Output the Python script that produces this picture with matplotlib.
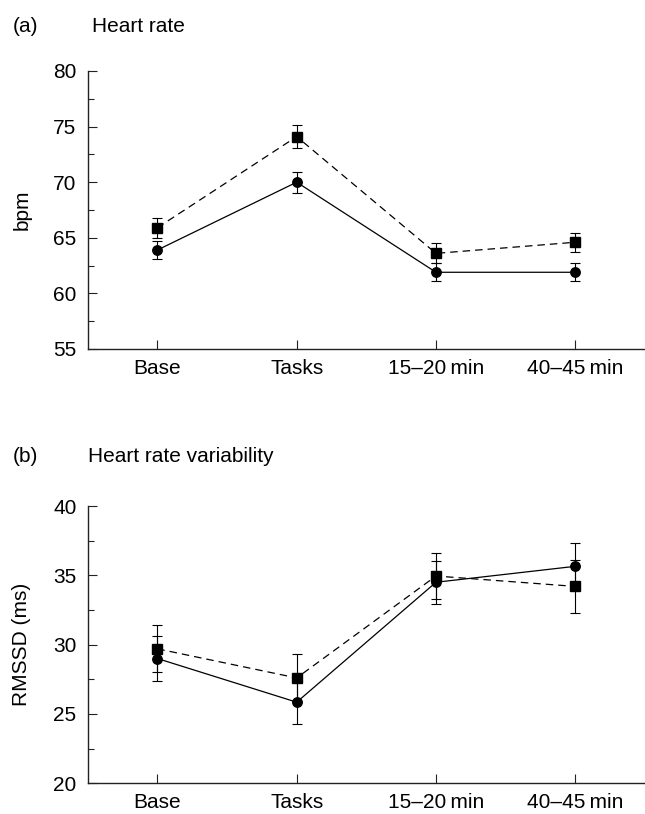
import matplotlib
matplotlib.use("Agg")
import matplotlib.pyplot as plt
from matplotlib.ticker import MultipleLocator
from matplotlib import font_manager

# categories
times = ["Base", "Tasks", "15–20\u2009min", "40–45\u2009min"]

# (a) heart rate, bpm
hr_square = [65.9, 74.1, 63.6, 64.6]
hr_square_err = [0.9, 1.0, 0.9, 0.85]
hr_circle = [63.9, 70.0, 61.9, 61.9]
hr_circle_err = [0.8, 0.95, 0.8, 0.8]

# (b) heart rate variability, RMSSD (ms)
hrv_square = [29.7, 27.6, 34.95, 34.2]
hrv_square_err = [1.7, 1.7, 1.65, 1.9]
hrv_circle = [29.0, 25.85, 34.5, 35.65]
hrv_circle_err = [1.6, 1.6, 1.55, 1.65]

names = {f.name for f in font_manager.fontManager.ttflist}
tick_font = "Liberation Sans Narrow" if "Liberation Sans Narrow" in names else "Liberation Sans"
text_font = "Liberation Sans"

W, H = 645, 814
fig = plt.figure(figsize=(W / 100, H / 100), dpi=100)

left = 87.7 / W
width = 1.0 - left


def panel(bottom_px, top_px, sq, sq_err, ci, ci_err, ylim, ylabel):
    ax = fig.add_axes([left, 1 - bottom_px / H, width, (bottom_px - top_px) / H])
    x = range(len(times))
    ax.errorbar(x, sq, yerr=sq_err, color="black", lw=0.9, ls=(0, (6, 4)),
                marker="s", ms=7.2, elinewidth=0.8, capsize=3.6, capthick=0.8)
    ax.errorbar(x, ci, yerr=ci_err, color="black", lw=0.9, ls="-",
                marker="o", ms=6.8, elinewidth=0.8, capsize=3.6, capthick=0.8)
    ax.set_xlim(-0.5, 3.5)
    ax.set_ylim(*ylim)
    ax.set_xticks(list(x))
    ax.set_xticklabels(times)
    ax.yaxis.set_major_locator(MultipleLocator(5))
    ax.yaxis.set_minor_locator(MultipleLocator(2.5))
    for s in ["top", "right"]:
        ax.spines[s].set_visible(False)
    for s in ["left", "bottom"]:
        ax.spines[s].set_linewidth(1.0)
        ax.spines[s].set_color("#222222")
    ax.tick_params(which="major", direction="in", length=6.5, width=0.8,
                   pad=8, labelsize=15, colors="#222222", labelcolor="black")
    ax.tick_params(which="minor", direction="in", length=4.3, width=0.8,
                   colors="#222222")
    ax.tick_params(axis="x", pad=7)
    for lab in ax.get_xticklabels() + ax.get_yticklabels():
        lab.set_fontfamily(tick_font)
    ax.set_ylabel(ylabel, fontsize=15, fontfamily=text_font)
    ax.yaxis.set_label_coords(-0.101, 0.5)
    return ax


panel(349, 71, hr_square, hr_square_err, hr_circle, hr_circle_err, (55, 80), "bpm")
panel(783.3, 506, hrv_square, hrv_square_err, hrv_circle, hrv_circle_err, (20, 40),
      "RMSSD (ms)")

fig.text(13 / W, 1 - 26 / H, "(a)", fontsize=15, fontfamily=text_font, va="center")
fig.text(92 / W, 1 - 26 / H, "Heart rate", fontsize=15, fontfamily=text_font, va="center")
fig.text(13 / W, 1 - 456 / H, "(b)", fontsize=15, fontfamily=text_font, va="center")
fig.text(88 / W, 1 - 456 / H, "Heart rate variability", fontsize=15,
         fontfamily=text_font, va="center")

fig.savefig("out.png", dpi=100)
